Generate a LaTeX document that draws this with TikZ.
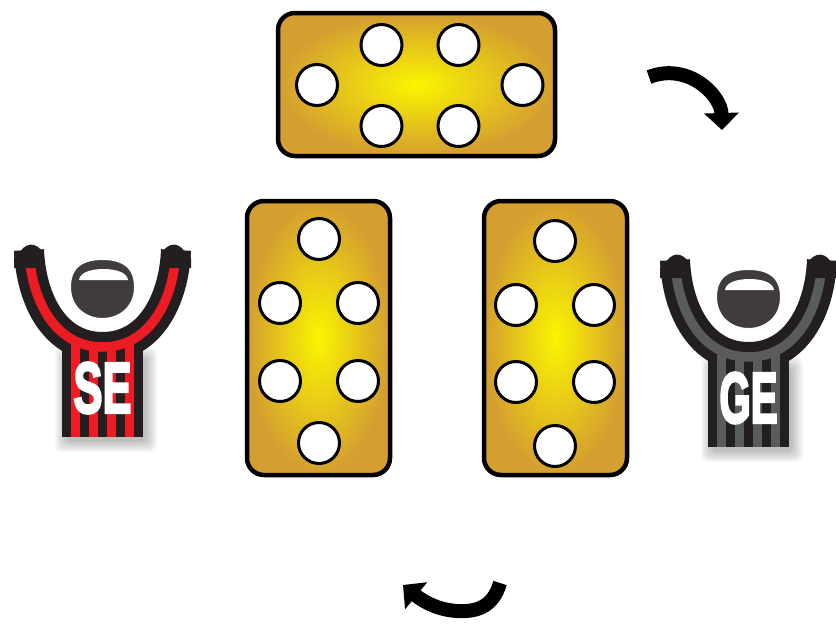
\documentclass[tikz,border=0pt]{standalone}
\usepackage{fontspec}
\newfontfamily\shirtfont{Liberation Sans}[BoldFeatures={FakeBold=4}]
\usetikzlibrary{arrows.meta}

\definecolor{shirtblack}{HTML}{231F20}
\definecolor{shirtred}{HTML}{ED1C24}
\definecolor{shirtgrey}{HTML}{5A5B5D}
\definecolor{headgrey}{HTML}{403C3C}
\definecolor{goldedge}{RGB}{212,158,48}
\definecolor{goldcentre}{RGB}{250,245,0}

\tikzset{
  pics/player/.style 2 args={code={
    \foreach \s in {0,...,11}
      \fill[black,opacity=.022,rounded corners=6pt] (66-\s,358-\s) rectangle (146+\s,441+\s);
    \draw[shirtblack,line width=30pt] (29,250) .. controls (31,300) and (55,347) .. (102.5,347)
      .. controls (150,347) and (174,300) .. (176,250);
    \fill[shirtblack] (62,340) rectangle (143,437);
    \draw[#1,line width=9.5pt] (29,250) .. controls (31,300) and (55,347) .. (102.5,347)
      .. controls (150,347) and (174,300) .. (176,250);
    \foreach \x in {71,89,107,125}
      \fill[#1] (\x,343) rectangle ++(9,94);
    % hands
    \foreach \m in {1,-1}
      \fill[shirtblack,shift={(102.5,0)},xscale=\m] (-88.5,268) -- (-88.5,259)
        .. controls (-88,253) and (-85,250) .. (-82,251.5)
        .. controls (-79,246) and (-73,243.5) .. (-68.5,245)
        .. controls (-64,246.5) and (-60,250) .. (-58.5,256) -- (-58.5,268) -- cycle;
    % head
    \filldraw[fill=headgrey,draw=white,line width=6pt] (68,287)
      .. controls (68,263) and (85,257) .. (102.5,257)
      .. controls (120,257) and (137,263) .. (137,287)
      .. controls (137,309) and (120,321) .. (102.5,321)
      .. controls (85,321) and (68,309) .. (68,287) -- cycle;
    \fill[white] (79,280) .. controls (80,272) and (92,269) .. (103.5,269)
      .. controls (115,269) and (127,272) .. (128,280) -- cycle;
    \node[text=white,inner sep=0pt] (-tag) at (102.5,388) {\resizebox{58pt}{50pt}{\shirtfont\bfseries #2}};
  }}
}

\begin{document}
\begin{tikzpicture}[x=1pt,y=-1pt,
  board/.style={draw=black,line width=4.5pt,rounded corners=17pt,inner sep=0pt,
    inner color=goldcentre,outer color=goldedge},
  hole/.style={circle,draw=black,line width=3pt,fill=white,minimum size=41pt,inner sep=0pt},
  turn/.style={line width=14pt,-{Triangle[width=34pt,length=17pt]}}]
\useasboundingbox (0,0) rectangle (836,627);

\node[board,minimum width=277pt,minimum height=143pt] (upper) at (416.5,84.5) {};
\node[board,minimum width=143pt,minimum height=274pt] (left) at (318.5,338) {};
\node[board,minimum width=143pt,minimum height=274pt] (right) at (555.5,338) {};

\foreach \n/\x/\y in {1/317/85,2/381.5/45,3/458.5/45,4/522.5/85,5/381.5/126,6/458.5/126}
  \node[hole] (upper-\n) at (\x,\y) {};
\foreach \n/\x/\y in {1/319/239,2/280/303,3/358/303,4/280/381,5/358/381,6/319/443}
  \node[hole] (left-\n) at (\x,\y) {};
\foreach \n/\x/\y in {1/555/241,2/516/305,3/594/305,4/516/382,5/594/382,6/555/446}
  \node[hole] (right-\n) at (\x,\y) {};

\pic (se) at (0,0) {player={shirtred}{SE}};
\pic (ge) at (646,10) {player={shirtgrey}{GE}};

\coordinate (cw-tail) at (649,77);
\coordinate (cw-head) at (722,130);
\coordinate (ccw-tail) at (500,583);
\coordinate (ccw-head) at (403,585);
\draw[turn] (cw-tail) .. controls (688,62) and (721,95) .. (cw-head);
\draw[turn] (ccw-tail) .. controls (493,608) and (475,612) .. (457,611)
  .. controls (440,610) and (425,603) .. (ccw-head);
\end{tikzpicture}
\end{document}
